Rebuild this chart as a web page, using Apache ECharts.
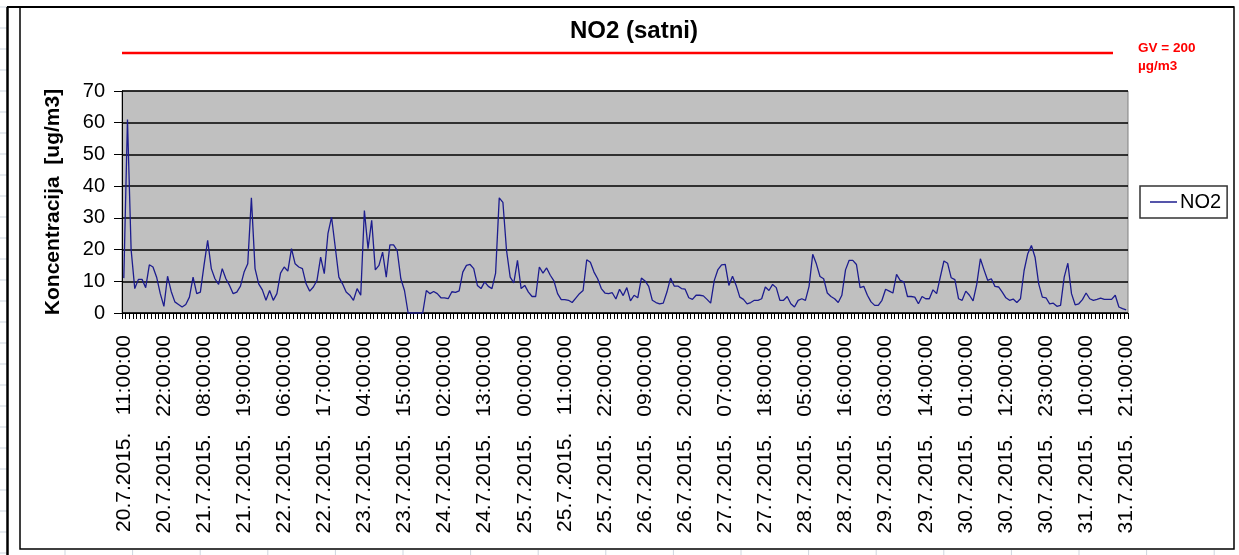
<!DOCTYPE html>
<html>
<head>
<meta charset="utf-8">
<script src="https://cdn.jsdelivr.net/npm/echarts@6/dist/echarts.min.js"></script>
<style>
  html, body { margin: 0; padding: 0; background: #fff; }
  #chart { width: 1239px; height: 555px; }
</style>
</head>
<body>
<div id="chart"></div>
<script>
// hourly NO2 values, 20.7.2015 11:00 - 31.7.2015 21:00
const no2 = [
  11, 61, 20, 7.7, 10.6, 10.6, 8, 15.2, 14.5, 11.3,
  6.1, 2.1, 11.6, 6.8, 3.5, 2.7, 1.9, 2.7, 5, 11.3,
  6.1, 6.6, 15, 22.9, 14, 10.8, 9, 14, 10.8, 8.7,
  6.1, 6.6, 8.5, 12.9, 15.5, 36.3, 14, 9.2, 7.3, 4,
  7.1, 4, 6.1, 12.6, 14.5, 13.2, 20.3, 15.5, 14.5, 14,
  9.2, 6.9, 8.2, 10.3, 17.6, 12.4, 25, 30.2, 20.8, 11.3,
  9.2, 6.6, 5.6, 4, 7.7, 5.6, 32.3, 20.3, 29.2, 13.6,
  15, 19.2, 11.3, 21.5, 21.5, 19.7, 10.8, 7.1, 0, 0,
  0, 0, 0, 7.1, 6.1, 6.8, 6.1, 4.8, 4.8, 4.5,
  6.7, 6.5, 7, 12.9, 15, 15.3, 14, 8.7, 7.7, 9.8,
  8.4, 7.7, 12.6, 36.3, 34.9, 19.7, 11.3, 9.5, 16.6, 7.7,
  8.7, 6.6, 5.2, 5.2, 14.5, 12.6, 14.2, 11.9, 10.1, 6.1,
  4.2, 4.2, 4, 3.3, 4.7, 6.1, 7.1, 16.8, 16, 12.9,
  10.8, 7.7, 6.3, 6.1, 6.4, 4.4, 7.5, 5.5, 8, 3.8,
  5.6, 4.8, 11, 10.1, 8.4, 4, 3.3, 2.9, 3.1, 6.6,
  11, 8.5, 8.5, 7.7, 7.5, 4.8, 4.3, 5.6, 5.6, 5.4,
  4.3, 3.1, 10.3, 13.7, 15.2, 15.3, 8.7, 11.6, 8.7, 5,
  4.3, 2.9, 3.3, 4, 4, 4.5, 8.2, 7.1, 9, 8,
  4, 4, 5.2, 2.9, 1.9, 4, 4.5, 4, 8.4, 18.5,
  15.5, 11.5, 10.8, 6.3, 5.2, 4.5, 3.3, 5.6, 13.6, 16.6,
  16.6, 15.3, 8, 8.4, 5.6, 3.5, 2.4, 2.4, 4, 7.5,
  6.9, 6.3, 12.2, 10.3, 9.8, 5.2, 5.2, 5, 2.9, 5.2,
  4.5, 4.5, 7.3, 6.1, 11.3, 16.4, 15.7, 11.1, 10.5, 4.5,
  4, 6.9, 5.6, 3.8, 9, 17.1, 13.6, 10.3, 10.8, 8.4,
  8.2, 6.6, 4.8, 4, 4.4, 3.3, 4.5, 13.4, 18.7, 21.3,
  17.6, 9.2, 5, 4.8, 2.9, 3.1, 2.1, 2.4, 11.3, 15.7,
  6.1, 2.6, 2.9, 4.2, 6.3, 4.5, 4, 4.3, 4.7, 4.3, 4.3, 4.3, 5.6, 1.9, 1.4, 1
];

const gvLimit = 200;
const yTicks = [0, 10, 20, 30, 40, 50, 60, 70];

// category labels, one per hour (midnight of 21.7 appears twice in the source)
const categories = [];
(function () {
  const pad = n => (n < 10 ? '0' : '') + n;
  let t = Date.UTC(2015, 6, 20, 11);
  const end = Date.UTC(2015, 6, 31, 21);
  while (t <= end) {
    const d = new Date(t);
    const lab = d.getUTCDate() + '.' + (d.getUTCMonth() + 1) + '.' + d.getUTCFullYear() +
      '.   ' + pad(d.getUTCHours()) + ':00:00';
    categories.push(lab);
    if (d.getUTCDate() === 21 && d.getUTCHours() === 0) categories.push(lab);
    t += 3600000;
  }
})();

const gvData = categories.map(() => gvLimit);

const font = 'Liberation Sans, Arial, sans-serif';
const chart = echarts.init(document.getElementById('chart'));

// spreadsheet cell lines around the chart
const sheet = [];
for (let y = 154 - 21 * 7; y < 555; y += 21) {
  sheet.push({ type: 'line', shape: { x1: 0, y1: y, x2: 7, y2: y }, style: { stroke: '#cdd5df', lineWidth: 1 }, silent: true });
}
for (let x = 65; x < 1239; x += 67.6) {
  sheet.push({ type: 'line', shape: { x1: x, y1: 550, x2: x, y2: 555 }, style: { stroke: '#cdd5df', lineWidth: 1 }, silent: true });
}

chart.setOption({
  animation: false,
  backgroundColor: '#fff',
  title: {
    text: 'NO2 (satni)',
    left: 565,
    top: 14,
    textStyle: { fontFamily: font, fontSize: 24, fontWeight: 'bold', color: '#000' }
  },
  legend: {
    data: ['NO2'],
    left: 1140,
    top: 186,
    orient: 'vertical',
    padding: [6, 6, 6, 10],
    backgroundColor: '#fff',
    borderColor: '#333',
    borderWidth: 1.5,
    borderRadius: 0,
    icon: 'rect',
    itemWidth: 27,
    itemHeight: 1.5,
    itemGap: 4,
    textStyle: { fontFamily: font, fontSize: 20, color: '#000', padding: [0, 0, 0, -2] }
  },
  graphic: [
    ...sheet,
    { type: 'rect', shape: { x: 20, y: 7, width: 1214, height: 542 }, style: { fill: 'none', stroke: '#000', lineWidth: 1.5 }, silent: true },
    { type: 'line', shape: { x1: 7.5, y1: 7, x2: 7.5, y2: 555 }, style: { stroke: '#000', lineWidth: 2.5 }, silent: true },
    { type: 'line', shape: { x1: 7, y1: 7, x2: 1234, y2: 7 }, style: { stroke: '#000', lineWidth: 2 }, silent: true }
  ],
  grid: [
    { left: 122, right: 111, top: 91, height: 222, backgroundColor: '#c0c0c0', show: true, borderColor: '#808080', borderWidth: 1 },
    { left: 122, right: 126, top: 43, height: 20 }
  ],
  xAxis: [{
    type: 'category',
    gridIndex: 0,
    data: categories,
    boundaryGap: true,
    axisLine: { lineStyle: { color: '#000', width: 1 } },
    axisTick: { show: true, interval: 0, length: 6, lineStyle: { color: '#000', width: 1 } },
    axisLabel: {
      interval: 10,
      rotate: 90,
      margin: 22,
      fontFamily: font,
      fontSize: 21,
      color: '#000'
    },
    splitLine: { show: false }
  }, {
    type: 'category',
    gridIndex: 1,
    data: categories,
    boundaryGap: false,
    show: false
  }],
  yAxis: [{
    type: 'value',
    gridIndex: 0,
    min: 0,
    max: 70,
    interval: 10,
    name: 'Koncentracija  [ug/m3]',
    nameLocation: 'middle',
    nameGap: 58,
    nameTextStyle: { fontFamily: font, fontSize: 21, fontWeight: 'bold', color: '#000' },
    axisLine: { show: true, lineStyle: { color: '#000', width: 1 } },
    axisTick: { show: true, length: 8, inside: false, lineStyle: { color: '#000' } },
    axisLabel: {
      margin: 17,
      fontFamily: font,
      fontSize: 20,
      color: '#000',
      formatter: v => (yTicks.indexOf(v) >= 0 ? String(v) : '')
    },
    splitLine: { show: true, lineStyle: { color: '#000', width: 1.5 } }
  }, {
    type: 'value',
    gridIndex: 1,
    min: 190,
    max: 210,
    show: false,
    splitLine: { show: false }
  }],
  series: [{
    name: 'NO2',
    type: 'line',
    xAxisIndex: 0,
    yAxisIndex: 0,
    data: no2,
    showSymbol: false,
    symbol: 'none',
    lineStyle: { color: '#1c1c8e', width: 1.3 },
    itemStyle: { color: '#1c1c8e' }
  }, {
    name: 'GV',
    type: 'line',
    xAxisIndex: 1,
    yAxisIndex: 1,
    data: gvData,
    symbol: 'none',
    lineStyle: { color: '#ff0000', width: 2.5 },
    endLabel: {
      show: true,
      distance: 25,
      formatter: 'GV = 200\nµg/m3',
      fontFamily: font,
      fontSize: 13.5,
      fontWeight: 'bold',
      color: '#ff0000',
      lineHeight: 18,
      align: 'left',
      offset: [0, 4]
    }
  }]
});
</script>
</body>
</html>
